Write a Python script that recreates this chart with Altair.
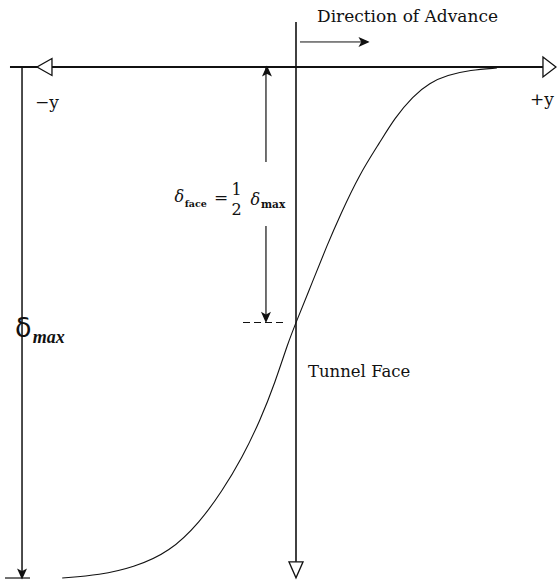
import altair as alt
import pandas as pd

# Settlement trough ahead of / behind a tunnel face.
# Horizontal: distance from the face (in units of the trough width i),
# vertical: settlement as a fraction of delta_max (0 at the ground line).
curve_u = [-3.34, -2.80, -2.33, -1.80, -1.37, -1.06, -0.77, -0.51, -0.30, -0.11,
           0.00, 0.24, 0.44, 0.63, 0.91, 1.20, 1.41, 1.67, 1.91, 2.16, 2.49, 2.87]
curve_f = [1.000, 0.994, 0.980, 0.949, 0.890, 0.831, 0.765, 0.691, 0.618, 0.538,
           0.500, 0.419, 0.350, 0.290, 0.209, 0.147, 0.100, 0.057, 0.031, 0.016, 0.006, 0.002]

face_u = 0.0
half_settlement = 0.5
max_settlement = 1.0

X = alt.Scale(domain=[-4.2286, 3.7286], nice=False, zero=False)
Y = alt.Scale(domain=[-0.1311, 1.0039], reverse=True, nice=False, zero=False)

def xy(u="u", f="f"):
    return dict(x=alt.X(f"{u}:Q", scale=X, axis=None),
                y=alt.Y(f"{f}:Q", scale=Y, axis=None))

curve_df = pd.DataFrame({"u": curve_u, "f": curve_f})
curve = alt.Chart(curve_df).mark_line(
    color="#111", strokeWidth=1.1, interpolate="basis"
).encode(**xy())

# straight guide lines: ground surface, face, dimension arrows
seg_u1 = [-4.086, face_u, 0.057, -3.914, -4.157, -0.429, -0.429]
seg_u2 = [3.621, face_u, 0.971, -3.914, -3.80, -0.429, -0.429]
seg_f1 = [0.0, -0.088, -0.049, 0.0, max_settlement, 0.0, 0.311]
seg_f2 = [0.0, 0.984, -0.049, 0.992, max_settlement, 0.186, 0.49]
seg_w = [1.8, 1.6, 1.0, 1.5, 1.2, 1.2, 1.2]
seg_df = pd.DataFrame({"u": seg_u1, "u2": seg_u2, "f": seg_f1, "f2": seg_f2, "w": seg_w})
segments = alt.Chart(seg_df).mark_rule(color="#111").encode(
    x=alt.X("u:Q", scale=X, axis=None), x2="u2:Q",
    y=alt.Y("f:Q", scale=Y, axis=None), y2="f2:Q",
    strokeWidth=alt.StrokeWidth("w:Q", scale=None),
)

# dashed tick marking half of the maximum settlement at the face
dash_df = pd.DataFrame({"u": [-0.757], "u2": [-0.157], "f": [half_settlement]})
dash = alt.Chart(dash_df).mark_rule(color="#111", strokeWidth=1.0, strokeDash=[7, 4]).encode(
    x=alt.X("u:Q", scale=X, axis=None), x2="u2:Q",
    y=alt.Y("f:Q", scale=Y, axis=None),
)

# arrowheads at the ends of the ground line, the face line and the dimensions
def head(u, f, path, size, filled):
    df = pd.DataFrame({"u": [u], "f": [f]})
    return alt.Chart(df).mark_point(
        shape=path, size=size, filled=filled, color="#111",
        stroke="#111", strokeWidth=1.3, fill="#111" if filled else "white", opacity=1,
    ).encode(**xy())

open_right = "M-0.65,-1 L0.65,0 L-0.65,1 Z"
open_left = "M0.88,-1 L-0.88,0 L0.88,1 Z"
open_down = "M-0.88,-1 L0.88,-1 L0,1 Z"
arrow_right = "M1,0 L-1,-0.9 L-0.5,0 L-1,0.9 Z"
arrow_down = "M0,1 L-0.9,-1 L0,-0.5 L0.9,-1 Z"
arrow_up = "M0,-1 L-0.9,1 L0,0.5 L0.9,1 Z"

heads = [
    head(3.621, 0.0, open_right, 400, False),
    head(-3.593, 0.0, open_left, 289, False),
    head(face_u, 0.984, open_down, 256, False),
    head(0.971, -0.049, arrow_right, 64, True),
    head(-3.914, 0.992, arrow_down, 64, True),
    head(-0.429, 0.49, arrow_down, 64, True),
    head(-0.415, 0.008, arrow_up, 64, True),
]

serif = "DejaVu Serif"

def label(text, u, f, size, font=serif, style="normal", weight="normal", align="left"):
    df = pd.DataFrame({"u": [u], "f": [f], "t": [text]})
    return alt.Chart(df).mark_text(
        font=font, fontSize=size, fontStyle=style, fontWeight=weight,
        align=align, baseline="middle", color="#111",
    ).encode(text="t:N", **xy())

labels = [
    label("Direction of Advance", 0.30, -0.0978, 17),
    label("\u2212y", -3.729, 0.0705, 17),
    label("+y", 3.343, 0.0646, 17),
    label("Tunnel Face", 0.171, 0.597, 16.5),
    # big delta_max dimension label
    label("\u03b4", -4.014, 0.512, 27, font="DejaVu Sans"),
    label("max", -3.76, 0.530, 18, font="Liberation Serif", style="italic", weight="bold"),
    # delta_face = 1/2 delta_max
    label("\u03b4", -1.736, 0.254, 16, style="italic"),
    label("face", -1.59, 0.268, 9.5, weight="bold"),
    label("=", -1.17, 0.256, 17),
    label("1", -0.92, 0.240, 16),
    label("2", -0.92, 0.280, 16),
    label("\u03b4", -0.65, 0.260, 16, style="italic"),
    label("max", -0.50, 0.270, 10.5, weight="bold"),
]

chart = alt.layer(curve, segments, dash, *heads, *labels).properties(
    width=557, height=580, padding=0, autosize="none", background="white"
).configure_view(stroke=None)

chart.save("out.html", embed_options={"renderer": "svg", "actions": False})
